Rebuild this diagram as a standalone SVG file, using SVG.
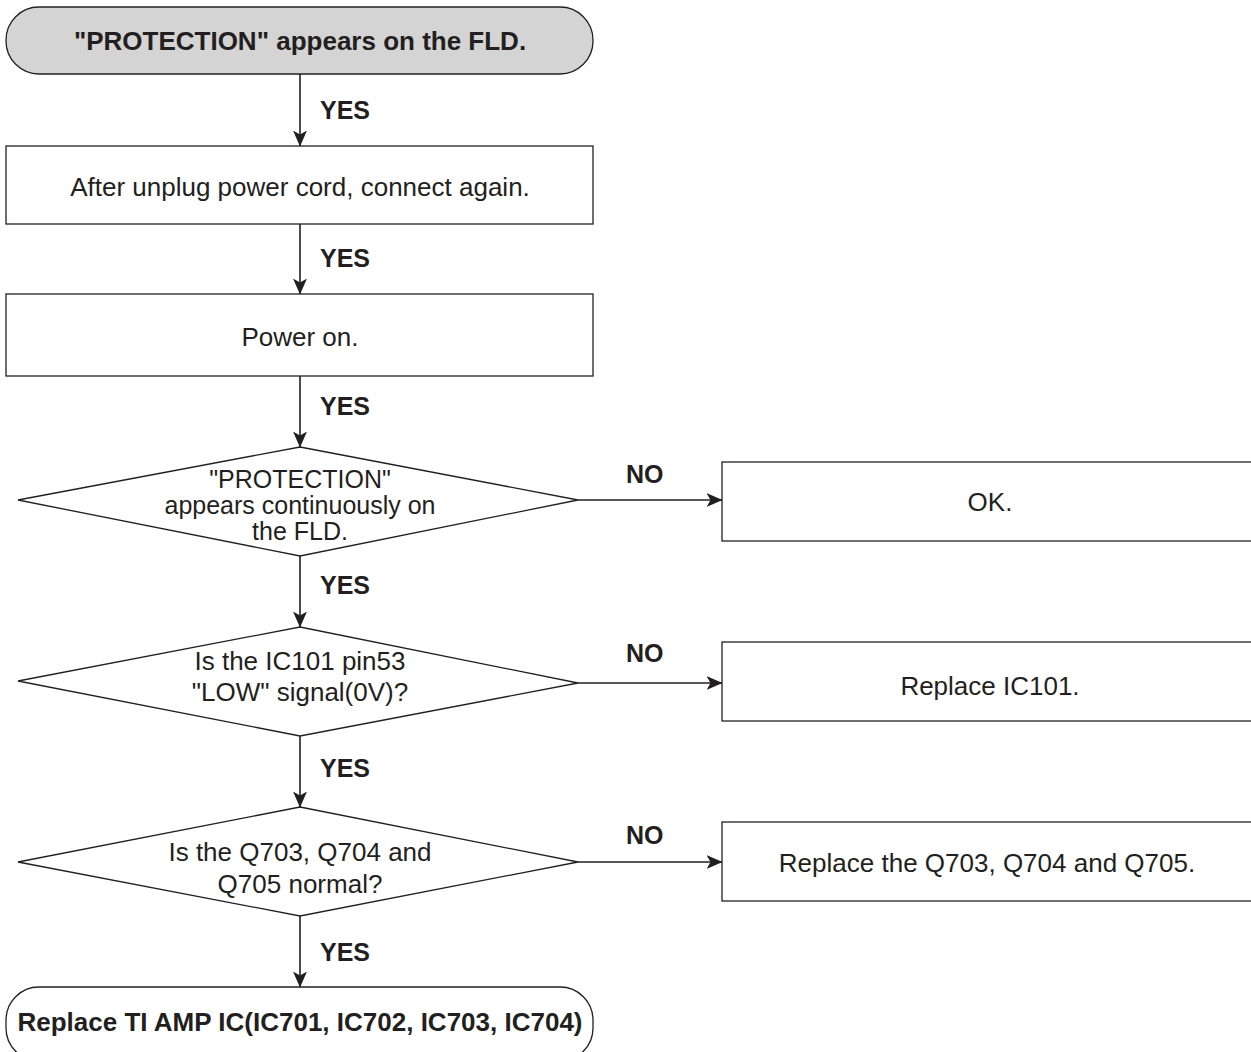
<svg xmlns="http://www.w3.org/2000/svg" width="1251" height="1052" viewBox="0 0 1251 1052">
<style>
.box{fill:#fff;stroke:#231f20;stroke-width:1.3}
.term{stroke:#231f20;stroke-width:1.3}
.t{font-family:"Liberation Sans",Arial,sans-serif;font-size:26px;fill:#231f20;text-anchor:middle}
.s{font-size:25px}
.b{font-weight:bold}
.lbl{font-family:"Liberation Sans",Arial,sans-serif;font-size:25px;font-weight:bold;fill:#231f20}
.c{stroke:#231f20;stroke-width:1.6;fill:none;marker-end:url(#ah)}
</style>
<defs>
<marker id="ah" viewBox="0 0 16 14" refX="15.5" refY="7" markerWidth="16" markerHeight="14" markerUnits="userSpaceOnUse" orient="auto">
<path d="M0,0 L16,7 L0,14 L4,7 Z" fill="#231f20"/>
</marker>
</defs>
<g id="n-start"><rect class="term" x="6" y="7" width="587" height="67" rx="33" ry="33" fill="#d4d4d4"/><text class="t b" x="300" y="50">"PROTECTION" appears on the FLD.</text></g>
<g id="n-unplug"><rect class="box" x="6" y="146" width="587" height="78"/><text class="t" x="300" y="196">After unplug power cord, connect again.</text></g>
<g id="n-poweron"><rect class="box" x="6" y="294" width="587" height="82"/><text class="t" x="300" y="346">Power on.</text></g>
<g id="n-d1"><polygon class="box" points="300,447 578,500 300,556 18,500"/><text class="t s" x="300" y="488">"PROTECTION"</text><text class="t s" x="300" y="514">appears continuously on</text><text class="t s" x="300" y="540">the FLD.</text></g>
<g id="n-ok"><rect class="box" x="722" y="462" width="535" height="79"/><text class="t" x="990" y="511">OK.</text></g>
<g id="n-d2"><polygon class="box" points="300,627 578,683 300,736 18,681"/><text class="t" x="300" y="670">Is the IC101 pin53</text><text class="t" x="300" y="701">"LOW" signal(0V)?</text></g>
<g id="n-ic101"><rect class="box" x="722" y="642" width="535" height="79"/><text class="t" x="990" y="695">Replace IC101.</text></g>
<g id="n-d3"><polygon class="box" points="300,807 578,862 300,916 18,862"/><text class="t" x="300" y="861">Is the Q703, Q704 and</text><text class="t" x="300" y="893">Q705 normal?</text></g>
<g id="n-q"><rect class="box" x="722" y="822" width="535" height="79"/><text class="t" x="987" y="872">Replace the Q703, Q704 and Q705.</text></g>
<g id="n-end"><rect class="term" x="6" y="987" width="587" height="74" rx="33" ry="33" fill="#fff"/><text class="t b" x="300" y="1031">Replace TI AMP IC(IC701, IC702, IC703, IC704)</text></g>
<g id="connectors">
<line class="c" x1="300" y1="74" x2="300" y2="146"/>
<line class="c" x1="300" y1="224" x2="300" y2="294"/>
<line class="c" x1="300" y1="376" x2="300" y2="447"/>
<line class="c" x1="300" y1="556" x2="300" y2="627"/>
<line class="c" x1="300" y1="736" x2="300" y2="807"/>
<line class="c" x1="300" y1="916" x2="300" y2="987"/>
<line class="c" x1="578" y1="500" x2="722" y2="500"/>
<line class="c" x1="578" y1="683" x2="722" y2="683"/>
<line class="c" x1="578" y1="862" x2="722" y2="862"/>
<text class="lbl" x="320" y="119">YES</text>
<text class="lbl" x="320" y="267">YES</text>
<text class="lbl" x="320" y="415">YES</text>
<text class="lbl" x="320" y="594">YES</text>
<text class="lbl" x="320" y="777">YES</text>
<text class="lbl" x="320" y="961">YES</text>
<text class="lbl" x="626" y="483">NO</text>
<text class="lbl" x="626" y="662">NO</text>
<text class="lbl" x="626" y="844">NO</text>
</g>
</svg>
